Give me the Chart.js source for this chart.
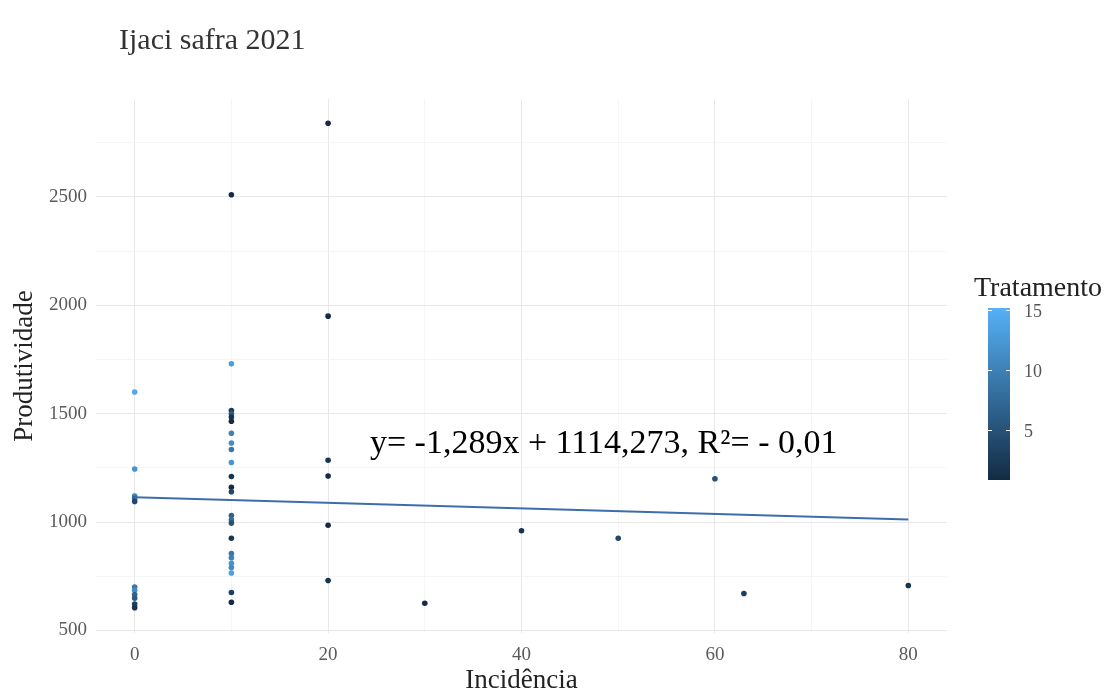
<!DOCTYPE html>
<html>
<head>
<meta charset="utf-8">
<script src="https://cdn.jsdelivr.net/npm/chart.js@4"></script>
<style>
  body { margin: 0; background: #fff; }
  #wrap { width: 1116px; height: 697px; }
</style>
</head>
<body>
<div id="wrap"><canvas id="chart"></canvas></div>
<script>
// values
const incidencia = [
  0, 0, 0, 0, 0, 0, 0, 0, 0, 0, 0,
  10, 10, 10, 10, 10, 10, 10, 10, 10, 10, 10, 10, 10, 10, 10, 10, 10, 10, 10, 10, 10, 10, 10, 10,
  20, 20, 20, 20, 20, 20,
  30, 40, 50, 60, 63, 80
];
const produtividade = [
  1600, 1245, 1120, 1108, 1095, 700, 685, 665, 648, 622, 605,
  2510, 1730, 1515, 1500, 1485, 1465, 1410, 1365, 1335, 1275, 1210, 1160, 1140, 1030, 1010, 995, 925, 855, 835, 810, 790, 765, 675, 630,
  2840, 1950, 1285, 1212, 985, 730,
  625, 960, 925, 1200, 670, 707
];
const tratamento = [
  14, 12, 10, 7, 4, 9, 11, 7, 6, 3, 2,
  1, 13, 3, 6, 2, 1, 10, 11, 9, 12, 2, 1, 4, 7, 8, 5, 2, 9, 10, 12, 11, 13, 3, 1,
  1, 1, 2, 1, 1, 2,
  1, 2, 4, 5, 3, 2
];
const xTicks = [0, 20, 40, 60, 80];
const xMinor = [10, 30, 50, 70];
const yTicks = [500, 1000, 1500, 2000, 2500];
const yMinor = [750, 1250, 1750, 2250, 2750];
const legendTicks = [5, 10, 15];
const slope = -1.289;
const intercept = 1114.273;

const serif = "'Liberation Serif', 'DejaVu Serif', serif";
const lowCol = [19, 43, 67];    // #132B43
const highCol = [86, 177, 247]; // #56B1F7
const tMin = 1, tMax = 15;

function tColor(t) {
  const f = (t - tMin) / (tMax - tMin);
  const c = lowCol.map((v, i) => Math.round(v + (highCol[i] - v) * f));
  return `rgb(${c[0]},${c[1]},${c[2]})`;
}

const points = incidencia.map((x, i) => ({ x: x, y: produtividade[i] }));
const fitLine = [0, 80].map(x => ({ x: x, y: intercept + slope * x }));

const extras = {
  id: 'extras',
  afterDraw(chart) {
    const ctx = chart.ctx;
    const sx = chart.scales.x, sy = chart.scales.y;
    ctx.save();
    // title
    ctx.fillStyle = '#333';
    ctx.font = `30px ${serif}`;
    ctx.textAlign = 'left';
    ctx.textBaseline = 'middle';
    ctx.fillText('Ijaci safra 2021', 119, 41);

    // equation
    ctx.fillStyle = '#000';
    ctx.font = `34px ${serif}`;
    ctx.textAlign = 'center';
    ctx.fillText('y= -1,289x + 1114,273, R²= - 0,01', sx.getPixelForValue(48.5), sy.getPixelForValue(1362));

    // colour bar legend
    const barX = 988, barW = 22, barTop = 308, barBot = 480;
    const yOf = t => barTop + (tMax + 0.2 - t) / (tMax - tMin + 0.4) * (barBot - barTop);
    const g = ctx.createLinearGradient(0, barBot, 0, barTop);
    g.addColorStop(0, tColor(tMin));
    g.addColorStop(1, tColor(tMax));
    ctx.fillStyle = g;
    ctx.fillRect(barX, barTop, barW, barBot - barTop);
    ctx.strokeStyle = '#fff';
    ctx.lineWidth = 1;
    ctx.font = `18px ${serif}`;
    ctx.textAlign = 'left';
    legendTicks.forEach(t => {
      const y = Math.round(yOf(t)) + 0.5;
      ctx.beginPath();
      ctx.moveTo(barX, y); ctx.lineTo(barX + 4, y);
      ctx.moveTo(barX + barW - 4, y); ctx.lineTo(barX + barW, y);
      ctx.stroke();
      ctx.fillStyle = '#555';
      ctx.fillText(String(t), barX + barW + 14, y + 2);
    });
    ctx.fillStyle = '#222';
    ctx.font = `28px ${serif}`;
    ctx.fillText('Tratamento', 974, 289);
    ctx.restore();
  }
};

new Chart(document.getElementById('chart'), {
  data: {
    datasets: [
      {
        type: 'scatter',
        data: points,
        backgroundColor: tratamento.map(tColor),
        borderWidth: 0,
        pointRadius: 2.8,
        order: 2
      },
      {
        type: 'line',
        data: fitLine,
        borderColor: '#3e6dae',
        borderWidth: 2,
        pointRadius: 0,
        order: 1
      }
    ]
  },
  options: {
    responsive: true,
    maintainAspectRatio: false,
    animation: false,
    layout: { padding: { top: 99, right: 169, left: 0, bottom: 0 } },
    plugins: { legend: { display: false }, tooltip: { enabled: false } },
    scales: {
      x: {
        type: 'linear',
        min: -4,
        max: 84,
        afterBuildTicks: s => { s.ticks = xTicks.concat(xMinor).sort((a, b) => a - b).map(v => ({ value: v })); },
        afterFit: s => { s.height = 64; },
        ticks: {
          padding: 11,
          color: '#5a5a5a',
          font: { family: serif, size: 19 },
          callback: v => xTicks.includes(v) ? String(v) : ''
        },
        grid: {
          drawTicks: false,
          color: c => xTicks.includes(c.tick.value) ? '#e8e8e8' : '#f2f2f2',
          lineWidth: c => xTicks.includes(c.tick.value) ? 1 : 0.7
        },
        border: { display: false },
        title: {
          display: true,
          text: 'Incidência',
          color: '#222',
          font: { family: serif, size: 27 },
          padding: { top: 0, bottom: 0 }
        }
      },
      y: {
        type: 'linear',
        min: 488,
        max: 2952,
        afterBuildTicks: s => { s.ticks = yTicks.concat(yMinor).sort((a, b) => a - b).map(v => ({ value: v })); },
        afterFit: s => { s.width = 96; },
        ticks: {
          padding: 9,
          color: '#5a5a5a',
          font: { family: serif, size: 19 },
          callback: v => yTicks.includes(v) ? String(v) : ''
        },
        grid: {
          drawTicks: false,
          color: c => yTicks.includes(c.tick.value) ? '#e8e8e8' : '#f2f2f2',
          lineWidth: c => yTicks.includes(c.tick.value) ? 1 : 0.7
        },
        border: { display: false },
        title: {
          display: true,
          text: 'Produtividade',
          color: '#222',
          font: { family: serif, size: 27 },
          padding: { top: 9, bottom: 2 }
        }
      }
    }
  },
  plugins: [extras]
});
</script>
</body>
</html>
